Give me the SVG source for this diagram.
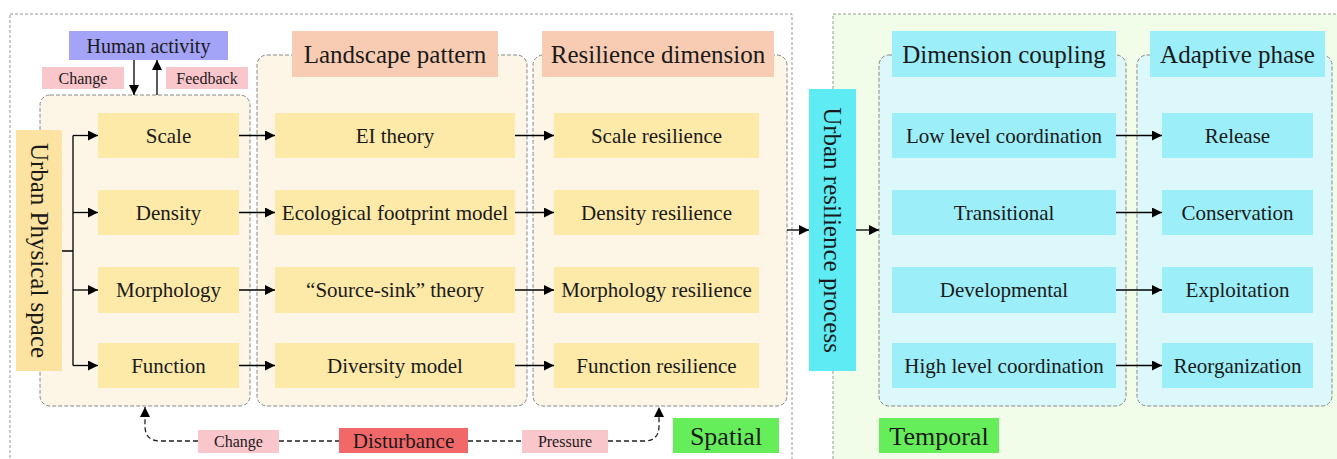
<svg xmlns="http://www.w3.org/2000/svg" width="1337" height="459" viewBox="0 0 1337 459">
  <defs>
    <marker id="arr" viewBox="0 0 10 10" refX="10" refY="5" markerWidth="10" markerHeight="10" markerUnits="userSpaceOnUse" orient="auto">
      <path d="M0,0 L10,5 L0,10 Z" fill="#000"/>
    </marker>
    <style>
      text { font-family: "Liberation Serif", "Times New Roman", serif; fill: #1a1a1a; text-anchor: middle; }
      .frame { fill: none; stroke: #999; stroke-width: 1; stroke-dasharray: 3 2; }
      .group { stroke: #888; stroke-width: 1; stroke-dasharray: 4 2; }
      .ygrp { fill: #fdf6e6; }
      .cgrp { fill: #dcf8fb; }
      .ybox { fill: #fde9a8; }
      .cbox { fill: #9ceef8; }
      .head { fill: #f8ccb2; }
      .pink { fill: #f9c6cb; }
      .green { fill: #66ee5a; }
      .lbl { font-size: 21px; }
      .hd { font-size: 25px; }
      .sm { font-size: 16px; }
      .link { fill: none; stroke: #000; stroke-width: 1.3; }
      .dash { fill: none; stroke: #222; stroke-width: 1.3; stroke-dasharray: 5 3; }
    </style>
  </defs>

  <!-- background frames -->
  <rect x="833" y="14" width="510" height="450" fill="#f1fce9"/>
  <rect class="frame" x="833" y="14" width="510" height="450"/>
  <rect class="frame" x="10" y="14" width="782" height="450"/>

  <!-- group containers -->
  <g id="grp-physical"><rect class="group ygrp" x="40" y="95" width="210" height="311" rx="10"/></g>
  <g id="grp-landscape"><rect class="group ygrp" x="257" y="55" width="270" height="351" rx="10"/></g>
  <g id="grp-resilience"><rect class="group ygrp" x="533" y="55" width="254" height="351" rx="10"/></g>
  <g id="grp-coupling"><rect class="group cgrp" x="879" y="55" width="247" height="351" rx="10"/></g>
  <g id="grp-adaptive"><rect class="group cgrp" x="1137" y="55" width="195" height="351" rx="10"/></g>

  <!-- connectors -->
  <g id="connectors">
    <path class="link" d="M134 60 V95" marker-end="url(#arr)"/>
    <path class="link" d="M157 95 V60" marker-end="url(#arr)"/>
    <path class="link" d="M62 251 H73 M73 135.5 V365.5"/>
    <path class="link" d="M73 135.5 H98" marker-end="url(#arr)"/>
    <path class="link" d="M73 212.5 H98" marker-end="url(#arr)"/>
    <path class="link" d="M73 290 H98" marker-end="url(#arr)"/>
    <path class="link" d="M73 365.5 H98" marker-end="url(#arr)"/>
    <path class="link" d="M239 135.5 H275" marker-end="url(#arr)"/>
    <path class="link" d="M239 212.5 H275" marker-end="url(#arr)"/>
    <path class="link" d="M239 290 H275" marker-end="url(#arr)"/>
    <path class="link" d="M239 365.5 H275" marker-end="url(#arr)"/>
    <path class="link" d="M515 135.5 H554" marker-end="url(#arr)"/>
    <path class="link" d="M515 212.5 H554" marker-end="url(#arr)"/>
    <path class="link" d="M515 290 H554" marker-end="url(#arr)"/>
    <path class="link" d="M515 365.5 H554" marker-end="url(#arr)"/>
    <path class="link" d="M787 230 H809" marker-end="url(#arr)"/>
    <path class="link" d="M856 230 H879" marker-end="url(#arr)"/>
    <path class="link" d="M1116 135.5 H1162" marker-end="url(#arr)"/>
    <path class="link" d="M1116 212.5 H1162" marker-end="url(#arr)"/>
    <path class="link" d="M1116 290 H1162" marker-end="url(#arr)"/>
    <path class="link" d="M1116 365.5 H1162" marker-end="url(#arr)"/>
    <path class="dash" d="M198 441 H160 Q145 441 145 426 V407" marker-end="url(#arr)"/>
    <path class="dash" d="M279 441 H339 M468 441 H522"/>
    <path class="dash" d="M608 441 H644 Q659 441 659 426 V407" marker-end="url(#arr)"/>
  </g>

  <!-- drivers -->
  <g id="human-activity"><rect x="69" y="31" width="159" height="29" fill="#a3a3f7"/><text x="148.5" y="52.5" style="font-size:20px">Human activity</text></g>
  <g id="lbl-change-top"><rect class="pink" x="42" y="67" width="82" height="22"/><text class="sm" x="83" y="83.5">Change</text></g>
  <g id="lbl-feedback"><rect class="pink" x="166" y="67" width="82" height="22"/><text class="sm" x="207" y="83.5">Feedback</text></g>

  <!-- urban physical space -->
  <g id="physical-space"><rect x="16" y="130" width="46" height="241" fill="#fde3a2"/><text class="hd" transform="translate(39 250.5) rotate(90)" y="8.5">Urban Physical space</text></g>
  <g id="scale"><rect class="ybox" x="98" y="113" width="141" height="45"/><text class="lbl" x="168.5" y="142.5">Scale</text></g>
  <g id="density"><rect class="ybox" x="98" y="190" width="141" height="45"/><text class="lbl" x="168.5" y="219.5">Density</text></g>
  <g id="morphology"><rect class="ybox" x="98" y="267" width="141" height="46"/><text class="lbl" x="168.5" y="297">Morphology</text></g>
  <g id="function"><rect class="ybox" x="98" y="343" width="141" height="45"/><text class="lbl" x="168.5" y="372.5">Function</text></g>

  <!-- landscape pattern -->
  <g id="landscape-head"><rect class="head" x="292" y="31" width="206" height="46"/><text class="hd" x="395" y="62.5">Landscape pattern</text></g>
  <g id="ei-theory"><rect class="ybox" x="275" y="113" width="240" height="45"/><text class="lbl" x="395" y="142.5">EI theory</text></g>
  <g id="footprint"><rect class="ybox" x="275" y="190" width="240" height="45"/><text class="lbl" x="395" y="219.5">Ecological footprint model</text></g>
  <g id="source-sink"><rect class="ybox" x="275" y="267" width="240" height="46"/><text class="lbl" x="395" y="297">“Source-sink” theory</text></g>
  <g id="diversity"><rect class="ybox" x="275" y="343" width="240" height="45"/><text class="lbl" x="395" y="372.5">Diversity model</text></g>

  <!-- resilience dimension -->
  <g id="resilience-head"><rect class="head" x="542" y="31" width="232" height="46"/><text class="hd" x="658" y="62.5">Resilience dimension</text></g>
  <g id="scale-res"><rect class="ybox" x="554" y="113" width="205" height="45"/><text class="lbl" x="656.5" y="142.5">Scale resilience</text></g>
  <g id="density-res"><rect class="ybox" x="554" y="190" width="205" height="45"/><text class="lbl" x="656.5" y="219.5">Density resilience</text></g>
  <g id="morph-res"><rect class="ybox" x="554" y="267" width="205" height="46"/><text class="lbl" x="656.5" y="297">Morphology resilience</text></g>
  <g id="function-res"><rect class="ybox" x="554" y="343" width="205" height="45"/><text class="lbl" x="656.5" y="372.5">Function resilience</text></g>

  <!-- urban resilience process -->
  <g id="resilience-process"><rect x="809" y="89" width="47" height="282" fill="#5eebf3"/><text class="hd" transform="translate(832.5 230) rotate(90)" y="8.5">Urban resilience process</text></g>

  <!-- dimension coupling -->
  <g id="coupling-head"><rect class="cbox" x="892" y="31" width="224" height="46"/><text class="hd" x="1004" y="62.5">Dimension coupling</text></g>
  <g id="low-level"><rect class="cbox" x="892" y="113" width="224" height="45"/><text class="lbl" x="1004" y="142.5">Low level coordination</text></g>
  <g id="transitional"><rect class="cbox" x="892" y="190" width="224" height="45"/><text class="lbl" x="1004" y="219.5">Transitional</text></g>
  <g id="developmental"><rect class="cbox" x="892" y="267" width="224" height="46"/><text class="lbl" x="1004" y="297">Developmental</text></g>
  <g id="high-level"><rect class="cbox" x="892" y="343" width="224" height="45"/><text class="lbl" x="1004" y="372.5">High level coordination</text></g>

  <!-- adaptive phase -->
  <g id="adaptive-head"><rect class="cbox" x="1150" y="31" width="175" height="46"/><text class="hd" x="1237.5" y="62.5">Adaptive phase</text></g>
  <g id="release"><rect class="cbox" x="1162" y="113" width="151" height="45"/><text class="lbl" x="1237.5" y="142.5">Release</text></g>
  <g id="conservation"><rect class="cbox" x="1162" y="190" width="151" height="45"/><text class="lbl" x="1237.5" y="219.5">Conservation</text></g>
  <g id="exploitation"><rect class="cbox" x="1162" y="267" width="151" height="46"/><text class="lbl" x="1237.5" y="297">Exploitation</text></g>
  <g id="reorganization"><rect class="cbox" x="1162" y="343" width="151" height="45"/><text class="lbl" x="1237.5" y="372.5">Reorganization</text></g>

  <!-- disturbance -->
  <g id="lbl-change-bottom"><rect class="pink" x="198" y="430" width="81" height="23"/><text class="sm" x="238.5" y="447">Change</text></g>
  <g id="disturbance"><rect x="339" y="428" width="129" height="25" fill="#f26868"/><text x="403.5" y="448" style="font-size:21px">Disturbance</text></g>
  <g id="lbl-pressure"><rect class="pink" x="522" y="430" width="86" height="23"/><text class="sm" x="565" y="447">Pressure</text></g>

  <!-- domain tags -->
  <g id="spatial"><rect class="green" x="673" y="418" width="106" height="35"/><text x="726" y="444.5" style="font-size:26px">Spatial</text></g>
  <g id="temporal"><rect class="green" x="879" y="418" width="120" height="35"/><text x="939" y="444.5" style="font-size:26px">Temporal</text></g>
</svg>
